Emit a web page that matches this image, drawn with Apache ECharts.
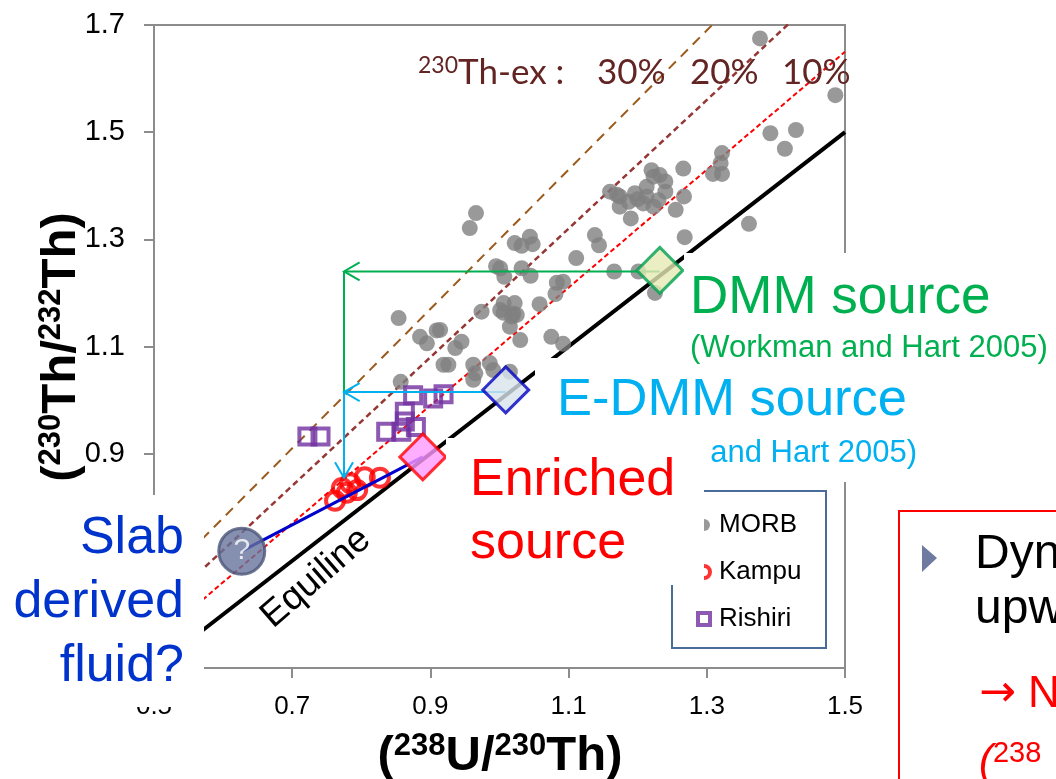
<!DOCTYPE html>
<html>
<head>
<meta charset="utf-8">
<script src="https://cdn.jsdelivr.net/npm/echarts@6/dist/echarts.min.js"></script>
<style>
html, body { margin: 0; padding: 0; background: #fff; }
#chart { width: 1056px; height: 779px; }
</style>
</head>
<body>
<div id="chart"></div>
<script>
// axis range and tick step
const xRange = [0.5, 1.5];
const yRange = [0.5, 1.7];
const tickStep = 0.2;

// 230Th excess reference lines (0 = equiline)
const thExcess = [0.3, 0.2, 0.1, 0];

// (238U/230Th), (230Th/232Th)
const morb = [
  [1.377, 1.675], [1.486, 1.569], [1.392, 1.498], [1.429, 1.504], [1.413, 1.469],
  [1.322, 1.461], [1.320, 1.442], [1.309, 1.422], [1.322, 1.422], [1.266, 1.432],
  [1.267, 1.380], [1.255, 1.355], [1.268, 1.304], [1.361, 1.329],
  [1.160, 1.389], [1.170, 1.383], [1.174, 1.380], [1.187, 1.370], [1.196, 1.386],
  [1.174, 1.361], [1.190, 1.339], [1.213, 1.380], [1.220, 1.429], [1.232, 1.420],
  [1.240, 1.408], [1.240, 1.389], [1.230, 1.373], [1.223, 1.361], [1.208, 1.367],
  [1.213, 1.398], [1.223, 1.417], [1.200, 1.375],
  [1.138, 1.308], [1.144, 1.289], [1.111, 1.265], [1.166, 1.240], [1.201, 1.240],
  [1.092, 1.221], [1.083, 1.219], [1.081, 1.198], [1.225, 1.200],
  [0.966, 1.349], [0.957, 1.321], [1.022, 1.293], [1.032, 1.288], [1.044, 1.305],
  [1.048, 1.291], [0.995, 1.250], [1.001, 1.246], [1.007, 1.230], [1.032, 1.246],
  [1.045, 1.232], [1.058, 1.179], [0.974, 1.165], [1.006, 1.181], [1.022, 1.181],
  [1.006, 1.163], [1.020, 1.161], [1.018, 1.156], [1.015, 1.137], [1.030, 1.112],
  [1.075, 1.118], [1.092, 1.105], [1.001, 1.168], [1.025, 1.159],
  [0.854, 1.153], [0.885, 1.118], [0.895, 1.106], [0.909, 1.130], [0.936, 1.097],
  [0.945, 1.109], [0.914, 1.131], [0.919, 1.066], [0.926, 1.066], [0.962, 1.066],
  [0.965, 1.050], [0.986, 1.069], [0.991, 1.056], [0.857, 1.034], [0.962, 1.038],
  [1.015, 1.053]
];
const kampu = [
  [0.762, 0.812], [0.779, 0.827], [0.794, 0.832], [0.784, 0.845],
  [0.805, 0.856], [0.827, 0.855], [0.772, 0.836]
];
const rishiri = [
  [0.722, 0.932], [0.741, 0.932], [0.836, 0.941], [0.858, 0.941], [0.879, 0.950],
  [0.863, 0.978], [0.863, 0.960], [0.875, 1.009], [0.904, 1.003], [0.919, 1.011]
];

// source end-members
const dmmSource = [1.232, 1.242];
const edmmSource = [1.009, 1.019];
const enrichedSource = [0.889, 0.894];
const slabFluid = [0.627, 0.718];

// arrows: x1, y1, x2, y2, head
const greenArrows = [
  [1.232, 1.240, 0.775, 1.240, 1],
  [0.775, 1.240, 0.775, 1.015, 0]
];
const cyanArrows = [
  [1.009, 1.015, 0.775, 1.015, 1],
  [0.775, 1.015, 0.775, 0.855, 1]
];

const FONT = '"Liberation Sans", Arial, sans-serif';

const refStyles = {
  0.3: { color: '#9c5a1c', width: 2, type: [10, 7] },
  0.2: { color: '#953735', width: 2.5, type: [6, 4] },
  0.1: { color: '#ff0000', width: 2, type: [5, 3] },
  0: { color: '#000000', width: 4, type: 'solid' }
};

function arrowRender(color) {
  return function (params, api) {
    const p0 = api.coord([api.value(0), api.value(1)]);
    const p1 = api.coord([api.value(2), api.value(3)]);
    const children = [{
      type: 'line',
      shape: { x1: p0[0], y1: p0[1], x2: p1[0], y2: p1[1] },
      style: { stroke: color, lineWidth: 2 }
    }];
    if (api.value(4)) {
      const dx = p1[0] - p0[0], dy = p1[1] - p0[1];
      const len = Math.hypot(dx, dy);
      const ux = dx / len, uy = dy / len;
      const L = 18, c = Math.cos(Math.PI / 6), s = Math.sin(Math.PI / 6);
      const b1 = [p1[0] - L * (ux * c - uy * s), p1[1] - L * (uy * c + ux * s)];
      const b2 = [p1[0] - L * (ux * c + uy * s), p1[1] - L * (uy * c - ux * s)];
      children.push({
        type: 'polyline',
        shape: { points: [b1, p1, b2] },
        style: { stroke: color, lineWidth: 2, fill: 'none' }
      });
    }
    return { type: 'group', children: children };
  };
}

const refSeries = thExcess.map(function (f) {
  const st = refStyles[f];
  return {
    type: 'line',
    silent: true,
    symbol: 'none',
    z: 2,
    data: xRange.map(function (x) { return [x, x * (1 + f)]; }),
    lineStyle: { color: st.color, width: st.width, type: st.type }
  };
});

function sup(size) {
  return { fontSize: size, fontFamily: FONT, fontWeight: 'bold', fill: '#000', padding: [0, 0, 20, 0] };
}

const myChart = echarts.init(document.getElementById('chart'));
const option = {
  animation: false,
  backgroundColor: '#fff',
  grid: {
    left: 154, top: 25, right: 211, bottom: 111,
    show: true, borderColor: '#8c8c8c', borderWidth: 2
  },
  xAxis: {
    type: 'value', min: xRange[0], max: xRange[1], interval: tickStep,
    splitLine: { show: false },
    axisLine: { lineStyle: { color: '#8c8c8c', width: 2 } },
    axisTick: { show: true, length: 10, lineStyle: { color: '#8c8c8c', width: 2 } },
    axisLabel: {
      margin: 26, fontSize: 26, fontFamily: FONT, color: '#000',
      formatter: function (v) { return v.toFixed(1); }
    }
  },
  yAxis: {
    type: 'value', min: yRange[0], max: yRange[1], interval: tickStep,
    splitLine: { show: false },
    axisLine: { show: true, lineStyle: { color: '#8c8c8c', width: 2 } },
    axisTick: { show: true, length: 10, lineStyle: { color: '#8c8c8c', width: 2 } },
    axisLabel: {
      margin: 29, fontSize: 29, fontFamily: FONT, color: '#000',
      formatter: function (v) { return v.toFixed(1); }
    }
  },
  legend: {
    data: [
      { name: 'MORB' },
      { name: 'Kampu', itemStyle: { borderWidth: 4 } },
      { name: 'Rishiri', itemStyle: { borderWidth: 4 } }
    ],
    orient: 'vertical',
    left: 691, top: 507,
    itemWidth: 12, itemHeight: 12, itemGap: 21,
    z: 5,
    textStyle: { fontSize: 26, fontFamily: FONT, color: '#000', padding: [0, 0, 0, 4] }
  },
  series: refSeries.concat([
    {
      name: 'MORB', type: 'scatter', z: 3,
      symbol: 'circle', symbolSize: 16,
      itemStyle: { color: '#7f7f7f' },
      data: morb
    },
    {
      name: 'Kampu', type: 'scatter', z: 4,
      symbol: 'circle', symbolSize: 18,
      itemStyle: { color: 'rgba(0,0,0,0)', borderColor: '#ff0000', borderWidth: 4 },
      data: kampu
    },
    {
      name: 'Rishiri', type: 'scatter', z: 4,
      symbol: 'rect', symbolSize: 16,
      itemStyle: { color: 'rgba(0,0,0,0)', borderColor: '#7030a0', borderWidth: 4 },
      data: rishiri
    },
    {
      type: 'custom', z: 5, silent: true,
      renderItem: arrowRender('#00b050'),
      encode: { x: [0, 2], y: [1, 3] },
      data: greenArrows
    },
    {
      type: 'custom', z: 5, silent: true,
      renderItem: arrowRender('#00b0f0'),
      encode: { x: [0, 2], y: [1, 3] },
      data: cyanArrows
    },
    {
      type: 'line', z: 5, symbol: 'none', silent: true,
      lineStyle: { color: '#0000cc', width: 3 },
      data: [slabFluid, enrichedSource]
    },
    {
      type: 'scatter', z: 6, symbol: 'circle', symbolSize: 46,
      itemStyle: { color: '#67739b', borderColor: '#4b5578', borderWidth: 3 },
      label: { show: true, position: 'inside', formatter: '?', color: '#fff', fontSize: 30, fontFamily: FONT },
      data: [slabFluid]
    },
    {
      type: 'scatter', z: 6, symbol: 'diamond', symbolSize: 46,
      itemStyle: { color: '#e6e9b4', borderColor: '#00a050', borderWidth: 3 },
      data: [dmmSource]
    },
    {
      type: 'scatter', z: 6, symbol: 'diamond', symbolSize: 46,
      itemStyle: { color: '#dae3ec', borderColor: '#0000c0', borderWidth: 3 },
      data: [edmmSource]
    },
    {
      type: 'scatter', z: 6, symbol: 'diamond', symbolSize: 46,
      itemStyle: { color: '#ff99ff', borderColor: '#ff0000', borderWidth: 3 },
      data: [enrichedSource]
    }
  ]),
  graphic: [
    // legend frame
    { type: 'rect', z: 3, shape: { x: 672, y: 491, width: 154, height: 157 },
      style: { fill: '#fff', stroke: '#4a6c9b', lineWidth: 2 } },
    // 230Th excess labels
    { type: 'text', z: 11, x: 418, y: 73,
      style: { text: '{s|230}{p|Th-ex :}', verticalAlign: 'middle',
        rich: {
          p: { fontSize: 35, fontFamily: 'Lato, sans-serif', fill: '#632523' },
          s: { fontSize: 23, fontFamily: 'Lato, sans-serif', fill: '#632523', padding: [0, 0, 14, 0] }
        } } },
    { type: 'text', z: 11, x: 597, y: 73,
      style: { text: '30%', fill: '#632523', fontSize: 35, fontFamily: 'Lato, sans-serif', verticalAlign: 'middle' } },
    { type: 'text', z: 11, x: 690, y: 73,
      style: { text: '20%', fill: '#632523', fontSize: 35, fontFamily: 'Lato, sans-serif', verticalAlign: 'middle' } },
    { type: 'text', z: 11, x: 782, y: 73,
      style: { text: '10%', fill: '#632523', fontSize: 35, fontFamily: 'Lato, sans-serif', verticalAlign: 'middle' } },
    // Equiline
    { type: 'text', z: 11, x: 316, y: 578, rotation: 41 * Math.PI / 180,
      style: { text: 'Equiline', fill: '#000', fontSize: 37, fontFamily: FONT,
        align: 'center', verticalAlign: 'middle' } },
    // axis titles
    { type: 'text', z: 11, x: 500, y: 756,
      style: { text: '{p|(}{s|238}{p|U/}{s|230}{p|Th)}', align: 'center', verticalAlign: 'middle',
        rich: { p: { fontSize: 49, fontFamily: FONT, fontWeight: 'bold', fill: '#000' }, s: sup(31) } } },
    { type: 'text', z: 11, x: 61, y: 347, rotation: Math.PI / 2,
      style: { text: '{p|(}{s|230}{p|Th/}{s|232}{p|Th)}', align: 'center', verticalAlign: 'middle',
        rich: { p: { fontSize: 49, fontFamily: FONT, fontWeight: 'bold', fill: '#000' }, s: sup(31) } } },
    // DMM box
    { type: 'rect', z: 10, shape: { x: 684, y: 253, width: 372, height: 105 }, style: { fill: '#fff' } },
    { type: 'text', z: 11, x: 690, y: 298,
      style: { text: 'DMM source', fill: '#00b050', fontSize: 53, fontFamily: FONT, verticalAlign: 'middle' } },
    { type: 'text', z: 11, x: 690, y: 348,
      style: { text: '(Workman and Hart 2005)', fill: '#00b050', fontSize: 31, fontFamily: FONT, verticalAlign: 'middle' } },
    // E-DMM box
    { type: 'rect', z: 10, shape: { x: 535, y: 358, width: 400, height: 124 }, style: { fill: '#fff' } },
    { type: 'text', z: 11, x: 557, y: 401,
      style: { text: 'E-DMM source', fill: '#00b0f0', fontSize: 52.5, fontFamily: FONT, verticalAlign: 'middle' } },
    { type: 'text', z: 11, x: 917, y: 453,
      style: { text: '(Workman and Hart 2005)', fill: '#00b0f0', fontSize: 31, fontFamily: FONT,
        align: 'right', verticalAlign: 'middle' } },
    // Enriched box
    { type: 'rect', z: 12, shape: { x: 446, y: 438, width: 258, height: 147 }, style: { fill: '#fff' } },
    { type: 'text', z: 13, x: 470, y: 512,
      style: { text: 'Enriched\nsource', fill: '#ff0000', fontSize: 52, fontFamily: FONT,
        lineHeight: 63, verticalAlign: 'middle' } },
    // Slab fluid box
    { type: 'rect', z: 10, shape: { x: 0, y: 495, width: 204, height: 212 }, style: { fill: '#fff' } },
    { type: 'text', z: 11, x: 184, y: 603,
      style: { text: 'Slab\nderived\nfluid?', fill: '#0033cc', fontSize: 52, fontFamily: FONT,
        lineHeight: 64, align: 'right', verticalAlign: 'middle' } },
    // red box at right
    { type: 'rect', z: 10, shape: { x: 899, y: 511, width: 200, height: 300 },
      style: { fill: '#fff', stroke: '#ff0000', lineWidth: 2 } },
    { type: 'polygon', z: 11, shape: { points: [[922, 545], [922, 572], [937, 558]] },
      style: { fill: '#6f7aa0' } },
    { type: 'text', z: 11, x: 975, y: 555,
      style: { text: 'Dyn', fill: '#000', fontSize: 48, fontFamily: FONT, verticalAlign: 'middle' } },
    { type: 'text', z: 11, x: 975, y: 610,
      style: { text: 'upw', fill: '#000', fontSize: 48, fontFamily: FONT, verticalAlign: 'middle' } },
    { type: 'text', z: 11, x: 979, y: 695,
      style: { text: '{a|→}{b| N}', verticalAlign: 'middle',
        rich: {
          a: { fontSize: 44, fontFamily: '"DejaVu Sans", sans-serif', fill: '#ff0000' },
          b: { fontSize: 44, fontFamily: FONT, fill: '#ff0000' }
        } } },
    { type: 'text', z: 11, x: 979, y: 762,
      style: { text: '{a|(}{b|238}', verticalAlign: 'middle',
        rich: {
          a: { fontSize: 42, fontFamily: FONT, fontStyle: 'italic', fill: '#ff0000' },
          b: { fontSize: 29, fontFamily: FONT, fill: '#ff0000', padding: [0, 0, 16, 0] }
        } } }
  ]
};
myChart.setOption(option);
</script>
</body>
</html>
